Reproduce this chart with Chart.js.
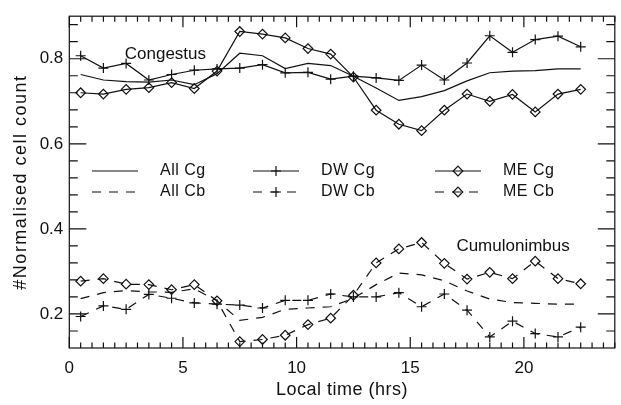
<!DOCTYPE html>
<html>
<head>
<meta charset="utf-8">
<script src="https://cdn.jsdelivr.net/npm/chart.js@4/dist/chart.umd.min.js"></script>
<style>
  html, body { margin: 0; padding: 0; background: #fff; }
  #wrap { width: 621px; height: 405px; }
</style>
</head>
<body>
<div id="wrap"><canvas id="cellChart" width="621" height="405"></canvas></div>
<script>
// Local time of each bin (hrs)
const hours = [0.5, 1.5, 2.5, 3.5, 4.5, 5.5, 6.5, 7.5, 8.5, 9.5, 10.5, 11.5,
               12.5, 13.5, 14.5, 15.5, 16.5, 17.5, 18.5, 19.5, 20.5, 21.5, 22.5];

// Congestus
const allCg = [0.763, 0.750, 0.746, 0.745, 0.750, 0.739, 0.765, 0.813, 0.807, 0.777, 0.789, 0.784,
               0.759, 0.731, 0.702, 0.711, 0.725, 0.748, 0.767, 0.771, 0.772, 0.776, 0.776];
const dwCg  = [0.807, 0.778, 0.789, 0.750, 0.763, 0.773, 0.776, 0.778, 0.786, 0.767, 0.768, 0.752,
               0.759, 0.755, 0.749, 0.785, 0.750, 0.790, 0.854, 0.815, 0.845, 0.853, 0.828];
const meCg  = [0.720, 0.717, 0.728, 0.732, 0.744, 0.730, 0.771, 0.864, 0.858, 0.849, 0.824, 0.811,
               0.757, 0.679, 0.646, 0.631, 0.679, 0.717, 0.700, 0.716, 0.675, 0.717, 0.728];

// Cumulonimbus
const allCb = [0.236, 0.250, 0.255, 0.252, 0.251, 0.259, 0.231, 0.185, 0.192, 0.211, 0.214, 0.217,
               0.237, 0.269, 0.296, 0.292, 0.278, 0.254, 0.235, 0.227, 0.225, 0.223, 0.223];
const dwCb  = [0.194, 0.219, 0.211, 0.246, 0.237, 0.226, 0.223, 0.221, 0.214, 0.232, 0.232, 0.247,
               0.240, 0.240, 0.250, 0.217, 0.247, 0.209, 0.146, 0.183, 0.154, 0.146, 0.169];
const meCb  = [0.277, 0.283, 0.270, 0.269, 0.257, 0.269, 0.231, 0.135, 0.140, 0.150, 0.175, 0.190,
               0.244, 0.320, 0.353, 0.368, 0.319, 0.282, 0.298, 0.283, 0.324, 0.283, 0.271];

const xTickLabels = [0, 5, 10, 15, 20];
const yTickLabels = [0.2, 0.4, 0.6, 0.8];

const FONT = "'Liberation Sans', Arial, sans-serif";
const INK = '#111';

function serie(label, data, marker, dashed) {
    return {
        label: label,
        data: data.map((v, i) => ({ x: hours[i], y: v })),
        borderColor: INK,
        borderWidth: 1.2,
        borderDash: dashed ? [9, 8] : [],
        backgroundColor: 'rgba(0,0,0,0)',
        pointStyle: marker || 'circle',
        pointRadius: marker ? (marker === 'cross' ? 5 : 4.8) : 0,
        pointBorderColor: INK,
        pointBorderWidth: 1.2,
        pointBackgroundColor: 'rgba(0,0,0,0)',
        tension: 0,
        fill: false
    };
}

const datasets = [
    serie('All Cg', allCg, null, false),
    serie('DW Cg', dwCg, 'cross', false),
    serie('ME Cg', meCg, 'rectRot', false),
    serie('All Cb', allCb, null, true),
    serie('DW Cb', dwCb, 'cross', true),
    serie('ME Cb', meCb, 'rectRot', true)
];

function drawMarker(ctx, style, x, y, r) {
    ctx.beginPath();
    if (style === 'cross') {
        ctx.moveTo(x - r, y); ctx.lineTo(x + r, y);
        ctx.moveTo(x, y - r); ctx.lineTo(x, y + r);
    } else if (style === 'rectRot') {
        ctx.moveTo(x, y - r); ctx.lineTo(x + r, y);
        ctx.lineTo(x, y + r); ctx.lineTo(x - r, y); ctx.closePath();
    }
    ctx.stroke();
}

// frame, inward ticks, legend and text labels
const decor = {
    id: 'decor',
    afterDraw(chart) {
        const ctx = chart.ctx;
        const a = chart.chartArea;
        const xs = chart.scales.x, ys = chart.scales.y;
        ctx.save();
        ctx.strokeStyle = INK;
        ctx.lineWidth = 1.2;
        ctx.setLineDash([]);
        ctx.strokeRect(a.left, a.top, a.right - a.left, a.bottom - a.top);

        ctx.beginPath();
        for (let i = 0; i <= 48; i++) {
            const px = xs.getPixelForValue(i * 0.5);
            const len = i % 10 === 0 ? 11 : 5.5;
            ctx.moveTo(px, a.bottom); ctx.lineTo(px, a.bottom - len);
            ctx.moveTo(px, a.top); ctx.lineTo(px, a.top + len);
        }
        for (let i = 4; i <= 22; i++) {
            const py = ys.getPixelForValue(i * 0.04);
            const len = i % 5 === 0 ? 17 : 8.5;
            ctx.moveTo(a.left, py); ctx.lineTo(a.left + len, py);
            ctx.moveTo(a.right, py); ctx.lineTo(a.right - len, py);
        }
        ctx.stroke();

        // legend, 3 columns x 2 rows
        const cols = [[92, 138, 160], [253, 299, 321], [435, 481, 503]];
        const rows = [171, 192];
        ctx.font = '16px ' + FONT;
        ctx.fillStyle = INK;
        ctx.textBaseline = 'middle';
        ctx.textAlign = 'left';
        ctx.letterSpacing = '0.5px';
        datasets.forEach((ds, k) => {
            const c = cols[k % 3], y = rows[Math.floor(k / 3)];
            ctx.setLineDash(ds.borderDash);
            ctx.beginPath();
            ctx.moveTo(c[0], y); ctx.lineTo(c[1], y);
            ctx.stroke();
            ctx.setLineDash([]);
            if (ds.pointRadius) drawMarker(ctx, ds.pointStyle, (c[0] + c[1]) / 2, y, ds.pointRadius);
            ctx.fillText(ds.label, c[2], y);
        });

        ctx.letterSpacing = '0px';
        ctx.font = '17px ' + FONT;
        ctx.fillText('Congestus', xs.getPixelForValue(2.44), ys.getPixelForValue(0.81));
        ctx.fillText('Cumulonimbus', xs.getPixelForValue(17.03), ys.getPixelForValue(0.359));

        // axis titles
        ctx.font = '18px ' + FONT;
        ctx.textAlign = 'center';
        ctx.letterSpacing = '0.5px';
        ctx.fillText('Local time (hrs)', (a.left + a.right) / 2, 390);
        ctx.letterSpacing = '1.5px';
        ctx.translate(21, (a.top + a.bottom) / 2);
        ctx.rotate(-Math.PI / 2);
        ctx.fillText('#Normalised cell count', 0, 0);
        ctx.restore();
    }
};

new Chart(document.getElementById('cellChart'), {
    type: 'line',
    data: { datasets: datasets },
    options: {
        responsive: false,
        animation: false,
        devicePixelRatio: 1,
        layout: { padding: { top: 9.5, right: 3.5, left: 0, bottom: 0 } },
        plugins: {
            legend: { display: false },
            tooltip: { enabled: false }
        },
        scales: {
            x: {
                type: 'linear',
                min: 0,
                max: 24,
                grid: { display: false, drawTicks: false },
                border: { display: false },
                afterBuildTicks: s => { s.ticks = xTickLabels.map(v => ({ value: v })); },
                afterFit: s => { s.height = 57; },
                ticks: {
                    padding: 10,
                    color: INK,
                    font: { family: FONT, size: 17 },
                    maxRotation: 0
                }
            },
            y: {
                type: 'linear',
                min: 0.12,
                max: 0.9,
                grid: { display: false, drawTicks: false },
                border: { display: false },
                afterBuildTicks: s => { s.ticks = yTickLabels.map(v => ({ value: v })); },
                afterFit: s => { s.width = 69.3; },
                ticks: {
                    padding: 6,
                    color: INK,
                    font: { family: FONT, size: 17 },
                    callback: v => v.toFixed(1)
                }
            }
        }
    },
    plugins: [decor]
});
</script>
</body>
</html>
